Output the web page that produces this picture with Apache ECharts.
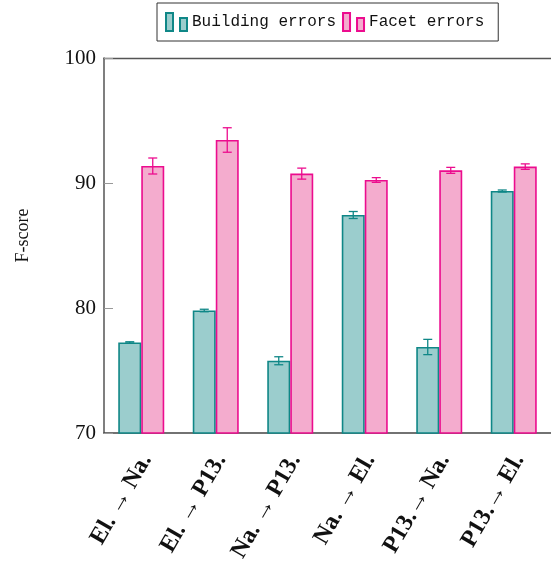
<!DOCTYPE html>
<html>
<head>
<meta charset="utf-8">
<script src="https://cdn.jsdelivr.net/npm/echarts@6/dist/echarts.min.js"></script>
<style>html,body{margin:0;padding:0;background:#fff}#c{width:551px;height:582px}</style>
</head>
<body>
<div id="c"></div>
<script>
const categories = ['El. → Na.', 'El. → P13.', 'Na. → P13.', 'Na. → El.', 'P13.→ Na.', 'P13.→ El.'];
const buildingValues = [77.25, 79.8, 75.78, 87.44, 76.88, 89.36];
const buildingErrors = [0.05, 0.1, 0.32, 0.28, 0.61, 0.08];
const facetValues = [91.36, 93.44, 90.75, 90.24, 91.01, 91.31];
const facetErrors = [0.64, 0.98, 0.44, 0.19, 0.24, 0.22];
const yTicks = [70, 80, 90, 100];

const TEAL = '#0f8787', TEAL_FILL = '#9bcdcd';
const MAG = '#ec0c8e', MAG_FILL = '#f4acce';
const BAR_W = 23;
const serif = '"Liberation Serif", "DejaVu Serif", serif';
const mono = '"Liberation Mono", "DejaVu Sans Mono", monospace';
const legendIcon = 'path://M0,0h7v18h-7zM14,5h7v13h-7z';

function errSeries(name, values, errors, color, side) {
  return {
    type: 'custom',
    name: name + ' err',
    z: 5,
    data: values.map((v, i) => [i, v, errors[i]]),
    renderItem: function (params, api) {
      const i = api.value(0), v = api.value(1), e = api.value(2);
      const off = side * BAR_W / 2;
      const hi = api.coord([i, v + e]);
      const lo = api.coord([i, v - e]);
      const x = hi[0] + off;
      const cap = 4.5;
      const st = { stroke: color, lineWidth: 1.3 };
      return {
        type: 'group',
        children: [
          { type: 'line', shape: { x1: x, y1: hi[1], x2: x, y2: lo[1] }, style: st },
          { type: 'line', shape: { x1: x - cap, y1: hi[1], x2: x + cap, y2: hi[1] }, style: st },
          { type: 'line', shape: { x1: x - cap, y1: lo[1], x2: x + cap, y2: lo[1] }, style: st }
        ]
      };
    }
  };
}

const chart = echarts.init(document.getElementById('c'), null, { renderer: 'canvas' });
chart.setOption({
  animation: false,
  grid: { left: 104, top: 58, width: 450, height: 375 },
  legend: {
    data: ['Building errors', 'Facet errors'],
    left: 157, top: 3,
    padding: [9, 14, 9, 8],
    itemWidth: 21, itemHeight: 18, itemGap: 6,
    borderColor: '#333', borderWidth: 1,
    icon: legendIcon,
    textStyle: { fontFamily: mono, fontSize: 16, color: '#111', padding: [2, 0, 0, 0] }
  },
  xAxis: [{
    type: 'category',
    data: categories,
    axisLine: { lineStyle: { color: '#444', width: 1.5 } },
    axisTick: { alignWithLabel: true, length: 10, lineStyle: { color: '#999', width: 1 } },
    axisLabel: {
      rotate: 60, margin: 20,
      formatter: function (v) { return '{a|' + v + '}'; },
      rich: { a: { fontFamily: serif, fontWeight: 'bold', fontSize: 24, color: '#111', padding: [12, 0, 0, 0] } }
    }
  }, {
    type: 'category',
    data: categories,
    position: 'top',
    axisLine: { lineStyle: { color: '#555', width: 1.3 } },
    axisTick: { show: false },
    axisLabel: { show: false }
  }],
  yAxis: {
    type: 'value',
    min: yTicks[0], max: yTicks[yTicks.length - 1], interval: 10,
    name: 'F-score', nameLocation: 'middle', nameGap: 72, nameRotate: 90,
    nameTextStyle: { fontFamily: serif, fontSize: 18, color: '#111', padding: [0, 0, 0, 20] },
    axisLine: { show: true, lineStyle: { color: '#555', width: 1.5 } },
    axisTick: { show: true, inside: true, length: 9, lineStyle: { color: '#999' } },
    splitLine: { show: false },
    axisLabel: { fontFamily: serif, fontSize: 21, color: '#111', margin: 8 }
  },
  series: [
    {
      name: 'Building errors', type: 'bar', data: buildingValues,
      barWidth: BAR_W, barGap: '0%',
      itemStyle: { color: TEAL_FILL, borderColor: TEAL, borderWidth: 1.6 }
    },
    {
      name: 'Facet errors', type: 'bar', data: facetValues,
      barWidth: BAR_W, barGap: '0%',
      itemStyle: { color: MAG_FILL, borderColor: MAG, borderWidth: 1.6 }
    },
    errSeries('Building errors', buildingValues, buildingErrors, TEAL, -1),
    errSeries('Facet errors', facetValues, facetErrors, MAG, 1)
  ]
});
</script>
</body>
</html>
